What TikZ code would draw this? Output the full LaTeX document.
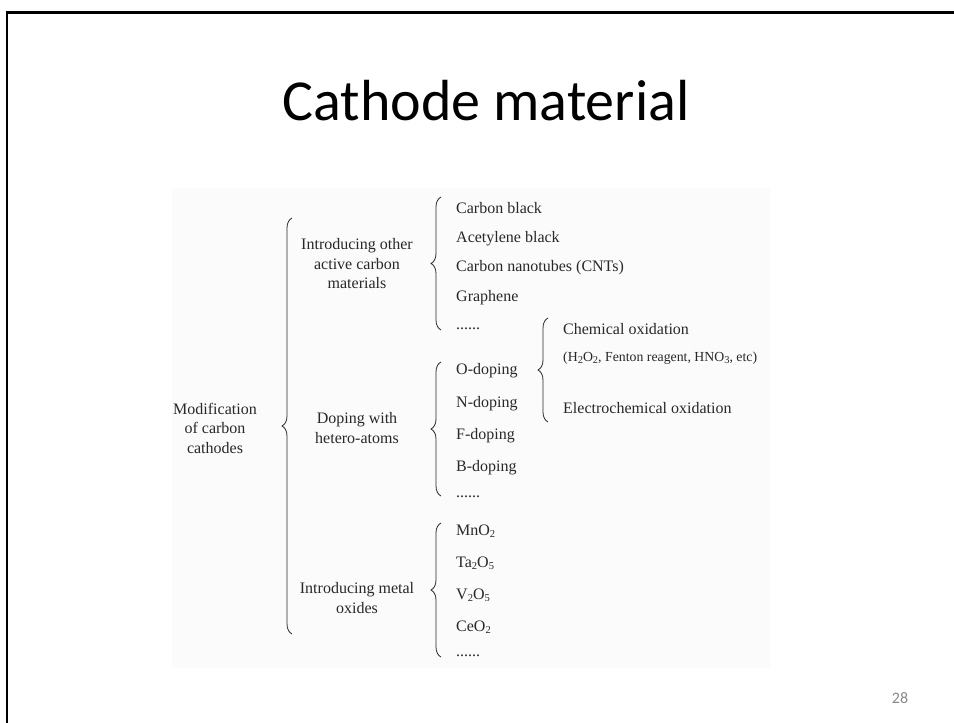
\documentclass[tikz,border=0pt]{standalone}
\usepackage{fontspec}
\setmainfont{Liberation Serif}
\newfontfamily\slidefont{Carlito}
\usetikzlibrary{decorations.pathreplacing,positioning}
\definecolor{pagegray}{RGB}{137,137,137}
\definecolor{figback}{RGB}{251,251,251}
\definecolor{figtext}{RGB}{40,40,40}
\newcommand{\chsub}[1]{\raisebox{-0.35ex}{\fontsize{10.5}{10}\selectfont #1}}
\tikzset{
  item/.style={anchor=base west, inner sep=0pt, text=figtext, font=\fontsize{16}{18}\selectfont},
  smallitem/.style={anchor=base west, inner sep=0pt, text=figtext, font=\fontsize{13.8}{16}\selectfont},
  grp/.style={align=center, inner sep=0pt, text=figtext, font=\fontsize{16}{19.5}\selectfont},
  brc/.style={decorate, decoration={brace, amplitude=10pt}, line width=0.8pt, draw=figtext},
}

\begin{document}
\begin{tikzpicture}[x=1pt, y=-1pt]
    \useasboundingbox (0,0) rectangle (954,723);
    % slide frame and figure area
    \fill[figback] (172,188) rectangle (770,668);
    \draw[line width=2.5pt] (7,723) -- (7,12.5) -- (954,12.5);
    \node[anchor=base, inner sep=0pt] at (486,120) (title) {\slidefont\fontsize{58}{60}\selectfont Cathode material};
    \node[anchor=base, inner sep=0pt] at (900,703) (page) {\slidefont\fontsize{16}{18}\selectfont\color{pagegray}28};

    % left part
    \node[grp] at (215,428) (mod) {Modification\\of carbon\\cathodes};
    \node[grp] at (357,264) (carb) {Introducing other\\active carbon\\materials};
    \node[grp] at (357,428) (dop) {Doping with\\hetero-atoms};
    \node[grp] at (357,598) (oxi) {Introducing metal\\oxides};

    % carbon materials
    \node[item] at (456,213) (cb) {Carbon black};
    \node[item] at (456,242.5) (ab) {Acetylene black};
    \node[item] at (456,271) (cnt) {Carbon nanotubes (CNTs)};
    \node[item] at (456,301) (gr) {Graphene};
    \node[item] at (456,329) (cdots) {......};

    % hetero-atoms
    \node[item] at (456,374) (od) {O-doping};
    \node[item] at (456,407) (nd) {N-doping};
    \node[item] at (456,439) (fd) {F-doping};
    \node[item] at (456,471) (bd) {B-doping};
    \node[item] at (456,497) (ddots) {......};

    % oxidation
    \node[item] at (563,334.5) (chem) {Chemical oxidation};
    \node[smallitem] at (563,361.5) (reag) {(H\chsub{2}O\chsub{2}, Fenton reagent, HNO\chsub{3}, etc)};
    \node[item] at (563,413.5) (elec) {Electrochemical oxidation};

    % metal oxides
    \node[item] at (456,535) (mn) {MnO\chsub{2}};
    \node[item] at (456,567) (ta) {Ta\chsub{2}O\chsub{5}};
    \node[item] at (456,599) (vo) {V\chsub{2}O\chsub{5}};
    \node[item] at (456,631) (ce) {CeO\chsub{2}};
    \node[item] at (456,656) (odots) {......};

    % braces
    \coordinate (b0t) at (292,218);
    \coordinate (b0b) at (292,634);
    \coordinate (b1t) at (441,197);
    \coordinate (b1b) at (441,330);
    \coordinate (b2t) at (441,362);
    \coordinate (b2b) at (441,496);
    \coordinate (b3t) at (548,318);
    \coordinate (b3b) at (548,422);
    \coordinate (b4t) at (441,523);
    \coordinate (b4b) at (441,657);
    \draw[brc] (b0b) -- (b0t);
    \draw[brc] (b1b) -- (b1t);
    \draw[brc] (b2b) -- (b2t);
    \draw[brc] (b3b) -- (b3t);
    \draw[brc] (b4b) -- (b4t);
\end{tikzpicture}
\end{document}
